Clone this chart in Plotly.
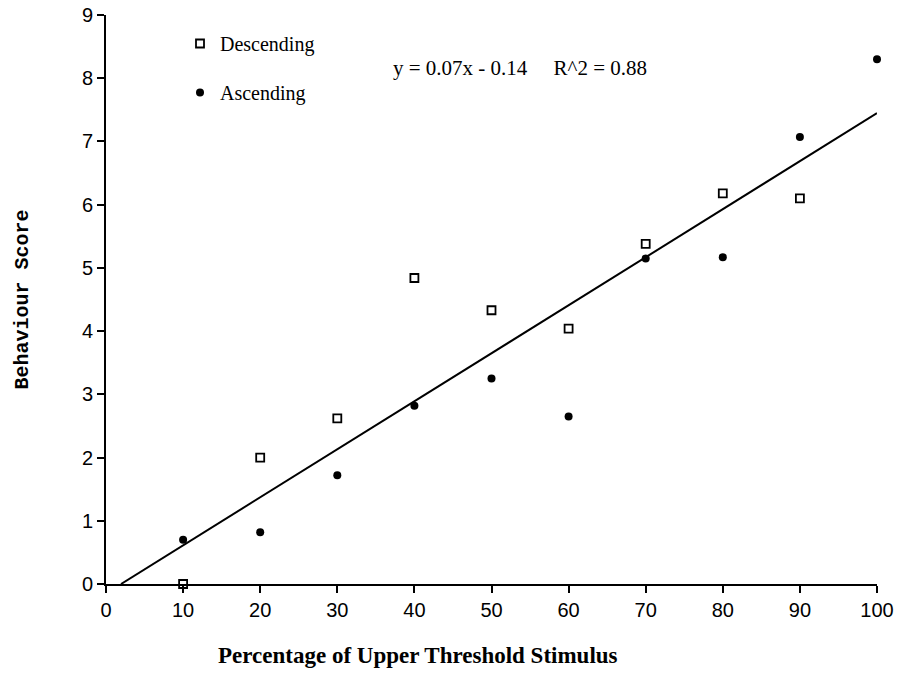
import numpy as np
import plotly.graph_objects as go

# Data
desc_x = [10, 20, 30, 40, 50, 60, 70, 80, 90]
desc_y = [0.0, 2.0, 2.62, 4.84, 4.33, 4.04, 5.38, 6.18, 6.10]
asc_x = [10, 20, 30, 40, 50, 60, 70, 80, 90, 100]
asc_y = [0.70, 0.82, 1.72, 2.82, 3.25, 2.65, 5.15, 5.17, 7.07, 8.30]

x_ticks = [0, 10, 20, 30, 40, 50, 60, 70, 80, 90, 100]
y_ticks = [0, 1, 2, 3, 4, 5, 6, 7, 8, 9]

# Regression line from all points
all_x = np.array(desc_x + asc_x, dtype=float)
all_y = np.array(desc_y + asc_y, dtype=float)
slope, intercept = np.polyfit(all_x, all_y, 1)
x_start = max(0.0, -intercept / slope)
line_x = np.array([x_start, max(asc_x)])
line_y = slope * line_x + intercept

serif = "Liberation Serif, Times New Roman, serif"
sans = "Liberation Sans, Arial, sans-serif"
mono = "Liberation Mono, Courier New, monospace"

fig = go.Figure()
fig.add_trace(go.Scatter(
    x=line_x, y=line_y, mode="lines",
    line=dict(color="black", width=2), showlegend=False,
    cliponaxis=False, hoverinfo="skip"))
fig.add_trace(go.Scatter(
    x=desc_x, y=desc_y, mode="markers", name="Descending",
    marker=dict(symbol="square-open", size=8, color="black",
                line=dict(color="black", width=1.8)),
    cliponaxis=False, legendgroup="d"))
fig.add_trace(go.Scatter(
    x=asc_x, y=asc_y, mode="markers", name="Ascending",
    marker=dict(symbol="circle", size=8, color="black"),
    cliponaxis=False, legendgroup="a"))

fig.add_annotation(
    x=(520 - 106) / 771, y=(584 - 68) / 569, xref="paper", yref="paper",
    xanchor="center", yanchor="middle",
    text="y = 0.07x - 0.14     R^2 = 0.88", showarrow=False,
    font=dict(family=serif, size=21, color="black"))

# x-axis title (offset left of the plot centre, as in the original)
fig.add_annotation(
    x=(418 - 106) / 771, y=-(655 - 584) / 569, xref="paper", yref="paper",
    xanchor="center", yanchor="middle",
    text="<b>Percentage of Upper Threshold Stimulus</b>", showarrow=False,
    font=dict(family=serif, size=23, color="black"))

fig.update_layout(
    width=901, height=687,
    margin=dict(l=106, r=24, t=15, b=103, autoexpand=False),
    paper_bgcolor="white", plot_bgcolor="white",
    showlegend=True,
    legend=dict(x=(180 - 106) / 771, y=(584 - 24) / 569,
                xanchor="left", yanchor="top",
                bgcolor="rgba(0,0,0,0)",
                font=dict(family=serif, size=20, color="black"),
                tracegroupgap=20),
    xaxis=dict(range=[0, 100], tickvals=x_ticks, ticks="outside",
               ticklen=7, tickwidth=1.5, tickcolor="black",
               showline=True, linecolor="black", linewidth=2,
               showgrid=False, zeroline=False, automargin=False,
               tickfont=dict(family=sans, size=20, color="black")),
    yaxis=dict(range=[0, 9], tickvals=y_ticks, ticks="outside",
               ticklen=7, tickwidth=1.5, tickcolor="black",
               showline=True, linecolor="black", linewidth=2,
               showgrid=False, zeroline=False, automargin=False,
               tickfont=dict(family=sans, size=20, color="black"),
               title=dict(text="<b>Behaviour Score</b>",
                          font=dict(family=mono, size=20, color="black"),
                          standoff=48)),
)

fig.write_html("out.html",
               config={"displayModeBar": False},
               post_script="document.body.style.margin='0px';")
